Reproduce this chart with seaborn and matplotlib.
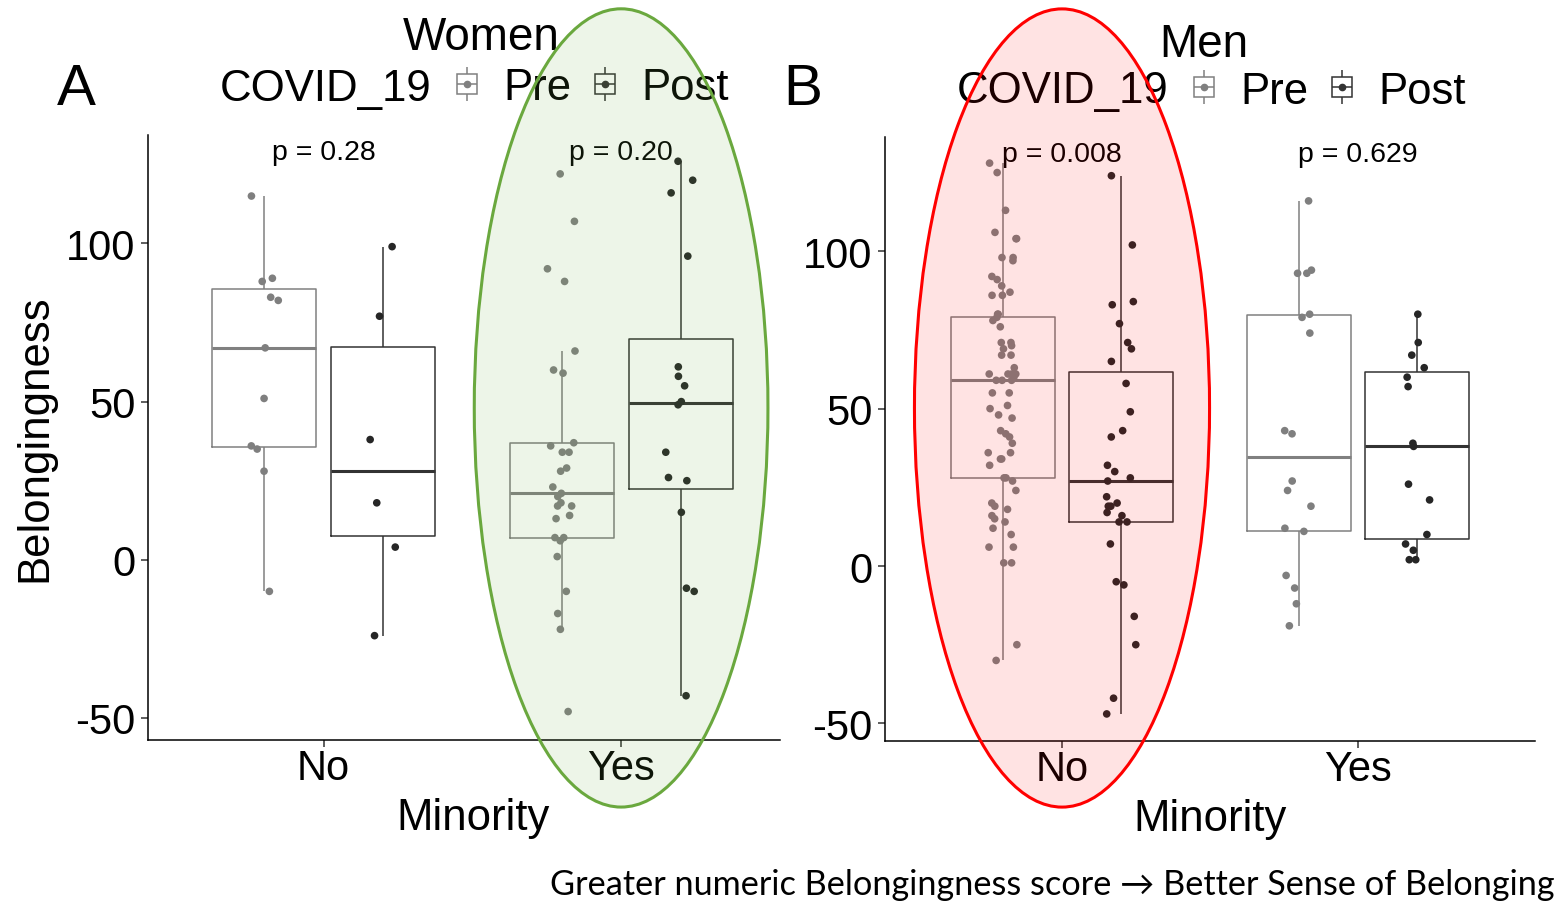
import numpy as np
import pandas as pd
import matplotlib.pyplot as plt
import seaborn as sns
from matplotlib.lines import Line2D
from matplotlib.patches import Ellipse

# ─── Data ────────────────────────────────────────────────────────────────────
minority_levels = ["No", "Yes"]
covid_levels = ["Pre", "Post"]

women_no_pre = [115, 89, 88, 83, 82, 67, 51, 36, 35, 28, -10]
women_no_post = [99, 77, 38, 18, 4, -24]
women_yes_pre = [122, 107, 92, 88, 66, 60, 59, 37, 36, 34, 34, 29, 28, 23, 21,
                 20, 18, 17, 17, 14, 13, 7, 7, 6, 1, -10, -17, -22, -48]
women_yes_post = [126, 120, 116, 96, 61, 58, 55, 50, 49, 34, 26, 25, 15, -9,
                  -10, -43]

men_no_pre = [128, 125, 113, 106, 104, 104, 98, 98, 97, 92, 91, 89, 87, 86, 86,
              80, 80, 79, 78, 76, 71, 71, 70, 69, 67, 67, 63, 61, 61, 61, 61,
              60, 59, 59, 59, 55, 55, 51, 50, 48, 47, 43, 42, 41, 39, 36, 36,
              34, 34, 32, 28, 28, 27, 24, 20, 19, 18, 16, 15, 14, 12, 10, 6, 6,
              1, 1, -25, -30]
men_no_post = [124, 102, 84, 83, 77, 71, 69, 65, 58, 49, 43, 41, 32, 30, 28, 27,
               22, 20, 19, 19, 17, 16, 14, 14, 7, -5, -6, -16, -25, -42, -47]
men_yes_pre = [116, 94, 93, 93, 80, 79, 74, 43, 42, 27, 24, 19, 12, 11, -3, -7,
               -12, -19]
men_yes_post = [80, 71, 67, 63, 60, 57, 39, 38, 26, 21, 10, 7, 5, 2, 2]

p_women = ["p = 0.28", "p = 0.20"]
p_men = ["p = 0.008", "p = 0.629"]

# ─── Style ───────────────────────────────────────────────────────────────────
sns.set_style("white")
plt.rcParams.update({
    "font.family": ["Liberation Sans", "DejaVu Sans"],
    "axes.unicode_minus": False,
    "text.color": "black",
    "axes.labelcolor": "black",
    "xtick.color": "black",
    "ytick.color": "black",
})

BOX_COLORS = {"Pre": "#808080", "Post": "#333333"}
PT_COLORS = {"Pre": "#7f7f7f", "Post": "#262626"}
LW = 1.1


def make_frame(no_pre, no_post, yes_pre, yes_post):
    parts = []
    for minority, covid, vals in [("No", "Pre", no_pre), ("No", "Post", no_post),
                                  ("Yes", "Pre", yes_pre), ("Yes", "Post", yes_post)]:
        parts.append(pd.DataFrame({"Minority": minority, "COVID_19": covid,
                                   "Belongingness": vals}))
    return pd.concat(parts, ignore_index=True)


def box_key(color):
    return (Line2D([], [], ls="none", marker="|", ms=24, mew=LW, color=color),
            Line2D([], [], ls="none", marker="s", ms=14, mfc="white", mec=color, mew=LW),
            Line2D([], [], ls="none", marker="_", ms=14, mew=LW, color=color),
            Line2D([], [], ls="none", marker="o", ms=4.5, color=color))


def draw_panel(ax, df, pvals, ylim, xlim, p_y):
    sns.boxplot(data=df, x="Minority", y="Belongingness", hue="COVID_19",
                order=minority_levels, hue_order=covid_levels, palette=BOX_COLORS,
                fill=False, width=0.8, gap=0.125, showfliers=False, showcaps=False,
                linewidth=LW, medianprops={"linewidth": 2.2}, legend=False, ax=ax)
    sns.stripplot(data=df, x="Minority", y="Belongingness", hue="COVID_19",
                  order=minority_levels, hue_order=covid_levels, palette=PT_COLORS,
                  dodge=True, jitter=0.1, size=5.5, linewidth=0, legend=False, ax=ax)
    for i, txt in enumerate(pvals):
        ax.text(i, p_y, txt, ha="center", va="center", fontsize=20.5)
    ax.set_ylim(*ylim)
    ax.set_xlim(*xlim)
    ax.set_yticks([-50, 0, 50, 100])
    ax.set_yticklabels(["-50", "0", "50", "100"])
    sns.despine(ax=ax)
    for s in ("left", "bottom"):
        ax.spines[s].set_linewidth(LW)
        ax.spines[s].set_color("black")
    ax.tick_params(length=5, width=LW, color="#333333", labelsize=30, pad=4,
                   left=True, bottom=True)
    ax.tick_params(axis="x", pad=1)
    ax.set_xlabel("Minority", fontsize=31.5, labelpad=0)


np.random.seed(7)
fig = plt.figure(figsize=(15.65, 9.04), dpi=100)
W, H = 1565, 904

axA = fig.add_axes([148 / W, 1 - 740.7 / H, 632 / W, 604.7 / H])
axB = fig.add_axes([885 / W, 1 - 742 / H, 650 / W, 604 / H])

draw_panel(axA, make_frame(women_no_pre, women_no_post, women_yes_pre, women_yes_post),
           p_women, (-56.9, 134.3), (-0.59, 1.534), 129)
draw_panel(axB, make_frame(men_no_pre, men_no_post, men_yes_pre, men_yes_post),
           p_men, (-55.6, 136.3), (-0.598, 1.598), 131)
axA.set_ylabel("Belongingness", fontsize=31.5)
axA.yaxis.set_label_coords(-0.147, 0.501)
axA.xaxis.set_label_coords(0.514, -0.095)
axB.xaxis.set_label_coords(0.5, -0.095)
axB.set_ylabel("")

# titles, panel letters, legends
fig.text(481 / W, 1 - 38 / H, "Women", ha="center", va="center", fontsize=33)
fig.text(1204 / W, 1 - 45 / H, "Men", ha="center", va="center", fontsize=33)
fig.text(76 / W, 1 - 90 / H, "A", ha="center", va="center", fontsize=42)
fig.text(803 / W, 1 - 90 / H, "B", ha="center", va="center", fontsize=42)

for title_x, key_x, y in [(220, 454, 89), (957, 1191, 92)]:
    fig.text(title_x / W, 1 - y / H, "COVID_19", ha="left", va="center", fontsize=31.5)
    fig.legend([box_key(BOX_COLORS["Pre"]), box_key(BOX_COLORS["Post"])], covid_levels,
               loc="center left", bbox_to_anchor=(key_x / W, 1 - y / H), ncol=2,
               frameon=False, fontsize=31.5, handlelength=0.6, handletextpad=0.53,
               columnspacing=0.46, borderpad=0, borderaxespad=0)

# highlighted groups
fig.add_artist(Ellipse((1, 48), 0.987, 252.4, transform=axA.transData,
                       facecolor=(0.44, 0.68, 0.28, 0.12), edgecolor="#6aa83e",
                       lw=2.2, zorder=10, clip_on=False))
fig.add_artist(Ellipse((0, 50.2), 0.997, 253.6, transform=axB.transData,
                       facecolor=(1.0, 0.0, 0.0, 0.11), edgecolor="#ff0000",
                       lw=2.2, zorder=10, clip_on=False))

fig.text(1555 / W, 1 - 885 / H,
         "Greater numeric Belongingness score \u2192 Better Sense of Belonging",
         ha="right", va="center", fontsize=24.7, family=["Lato", "DejaVu Sans"])

fig.savefig("out.png", dpi=100, facecolor="white")
